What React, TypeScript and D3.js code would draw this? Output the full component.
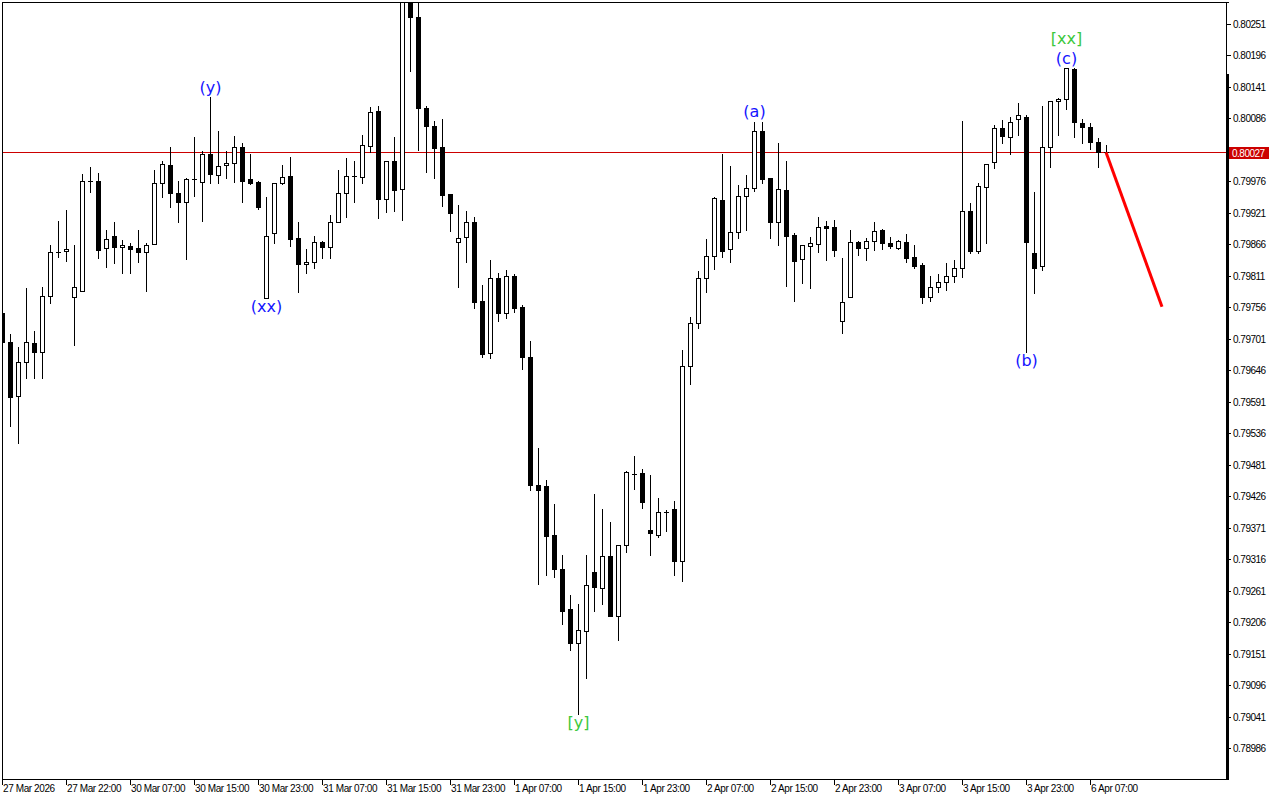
import React from "react";
import * as d3 from "d3";

// H1 bars, 27 Mar 2026 .. 6 Apr 2026 09:00
const opens = [
  0.79746, 0.79696, 0.79601, 0.79661, 0.79694, 0.79678, 0.79776, 0.79853, 0.79855, 0.79774,
  0.79785, 0.79977, 0.79977, 0.7986, 0.79881, 0.79862, 0.79863, 0.7986, 0.79853, 0.79867,
  0.79973, 0.80005, 0.79956, 0.7994, 0.7998, 0.79975, 0.80024, 0.79987, 0.80005, 0.80008,
  0.80036, 0.7998, 0.79975, 0.79773, 0.79886, 0.79973, 0.79986, 0.79877, 0.79832, 0.79835,
  0.7987, 0.79862, 0.79905, 0.79956, 0.79986, 0.79984, 0.80038, 0.80099, 0.79945, 0.80012,
  0.79963, 0.80307, 0.80263, 0.80104, 0.80073, 0.80036, 0.79954, 0.7987, 0.79879, 0.79905,
  0.79767, 0.79677, 0.79807, 0.79746, 0.79811, 0.79757, 0.7967, 0.79446, 0.79443, 0.79359,
  0.79299, 0.79228, 0.7917, 0.79191, 0.79294, 0.79266, 0.79322, 0.79217, 0.79341, 0.79465,
  0.79467, 0.79367, 0.79359, 0.79399, 0.79404, 0.79312, 0.79654, 0.79729, 0.79807, 0.79846,
  0.79944, 0.79858, 0.79888, 0.79951, 0.79965, 0.80064, 0.79982, 0.79905, 0.79961, 0.79883,
  0.79841, 0.79863, 0.79867, 0.79898, 0.79897, 0.79732, 0.79774, 0.7987, 0.7986, 0.79872,
  0.79891, 0.79869, 0.7986, 0.7987, 0.79844, 0.7983, 0.79774, 0.79792, 0.798, 0.79811,
  0.79825, 0.79924, 0.79855, 0.79966, 0.8001, 0.80069, 0.80054, 0.80085, 0.80089, 0.79851,
  0.79828, 0.80036, 0.80117, 0.8012, 0.80172, 0.80078, 0.80071, 0.80045, 0.80027,
];
const highs = [
  0.79748, 0.7971, 0.79687, 0.7979, 0.79715, 0.79792, 0.79865, 0.79907, 0.79926, 0.79865,
  0.79989, 0.80001, 0.79991, 0.79891, 0.79905, 0.79874, 0.79869, 0.79891, 0.79869, 0.79996,
  0.80012, 0.80036, 0.79977, 0.79982, 0.80054, 0.80029, 0.80123, 0.80064, 0.80029, 0.80055,
  0.80043, 0.80024, 0.79977, 0.79949, 0.79973, 0.80005, 0.80019, 0.79905, 0.79858, 0.79881,
  0.79872, 0.79918, 0.79996, 0.80017, 0.80012, 0.80057, 0.80106, 0.80108, 0.80012, 0.80054,
  0.80319, 0.80328, 0.80302, 0.80108, 0.80082, 0.80085, 0.79954, 0.79935, 0.79925, 0.79914,
  0.79795, 0.79839, 0.79816, 0.79821, 0.79814, 0.7976, 0.79697, 0.79511, 0.79455, 0.79413,
  0.79324, 0.79254, 0.79238, 0.79324, 0.79429, 0.79404, 0.79381, 0.79341, 0.7947, 0.79497,
  0.79474, 0.79463, 0.79422, 0.79402, 0.79418, 0.79682, 0.79739, 0.7982, 0.79876, 0.79949,
  0.80024, 0.80003, 0.7997, 0.79987, 0.8008, 0.8008, 0.79982, 0.80043, 0.80012, 0.79886,
  0.79865, 0.79879, 0.79914, 0.79907, 0.79909, 0.79842, 0.79891, 0.79872, 0.79877, 0.79905,
  0.79893, 0.79879, 0.79874, 0.79884, 0.79865, 0.79834, 0.79811, 0.79814, 0.79834, 0.79839,
  0.80082, 0.79938, 0.79973, 0.80007, 0.80075, 0.80083, 0.80089, 0.80113, 0.80092, 0.79958,
  0.80108, 0.80117, 0.80122, 0.80174, 0.80174, 0.80085, 0.80078, 0.80052, 0.8004,
];
const lows = [
  0.79696, 0.79549, 0.79519, 0.79633, 0.79633, 0.79633, 0.79764, 0.79844, 0.79837, 0.7969,
  0.79785, 0.79958, 0.79842, 0.79827, 0.79834, 0.79816, 0.79816, 0.79835, 0.79785, 0.79867,
  0.79949, 0.79931, 0.79905, 0.79841, 0.79951, 0.79907, 0.79973, 0.79973, 0.79982, 0.79975,
  0.7994, 0.79972, 0.79928, 0.79773, 0.79869, 0.79972, 0.79863, 0.79783, 0.79816, 0.79825,
  0.79842, 0.79842, 0.79905, 0.79914, 0.7994, 0.79973, 0.80027, 0.79912, 0.79923, 0.79924,
  0.79909, 0.80169, 0.80031, 0.79993, 0.79982, 0.79933, 0.7989, 0.79792, 0.79835, 0.79755,
  0.7967, 0.79668, 0.79732, 0.79738, 0.79748, 0.79649, 0.79437, 0.79273, 0.79289, 0.79284,
  0.79203, 0.79158, 0.79046, 0.79109, 0.79226, 0.79237, 0.79217, 0.79174, 0.79329, 0.79439,
  0.79406, 0.79324, 0.79354, 0.79366, 0.79289, 0.79278, 0.79622, 0.7972, 0.79783, 0.79823,
  0.79844, 0.79835, 0.79877, 0.79891, 0.79959, 0.79973, 0.79877, 0.79865, 0.79793, 0.79767,
  0.79799, 0.7979, 0.79853, 0.79839, 0.79846, 0.79711, 0.79774, 0.79848, 0.79839, 0.79856,
  0.79858, 0.7986, 0.79858, 0.79835, 0.79825, 0.79764, 0.79767, 0.79783, 0.79787, 0.798,
  0.79809, 0.79851, 0.79851, 0.79869, 0.8, 0.80043, 0.80024, 0.80057, 0.79678, 0.79781,
  0.79821, 0.80001, 0.80057, 0.80103, 0.80054, 0.80043, 0.80033, 0.80001, 0.80026,
];
const closes = [
  0.79696, 0.796, 0.79661, 0.79696, 0.79678, 0.79776, 0.79853, 0.79853, 0.79858, 0.79792,
  0.79977, 0.79977, 0.79856, 0.79876, 0.79862, 0.79865, 0.79858, 0.79853, 0.79865, 0.79973,
  0.80007, 0.79956, 0.7994, 0.7998, 0.7998, 0.80024, 0.79989, 0.80003, 0.80008, 0.80036,
  0.79977, 0.79973, 0.79931, 0.79881, 0.79973, 0.79984, 0.79876, 0.79832, 0.79835, 0.7987,
  0.79862, 0.79905, 0.79956, 0.79986, 0.79986, 0.8004, 0.80097, 0.79945, 0.80012, 0.79961,
  0.80307, 0.80263, 0.80104, 0.80073, 0.80035, 0.79952, 0.79921, 0.79877, 0.79905, 0.79766,
  0.79675, 0.79807, 0.79746, 0.79811, 0.79755, 0.7967, 0.79446, 0.79437, 0.79357, 0.79298,
  0.79226, 0.7917, 0.79193, 0.7927, 0.79268, 0.79322, 0.79217, 0.79341, 0.79469, 0.79465,
  0.79415, 0.79362, 0.79399, 0.79399, 0.79312, 0.79654, 0.79729, 0.79807, 0.79846, 0.79947,
  0.79855, 0.79888, 0.79951, 0.79965, 0.80064, 0.7998, 0.79905, 0.79963, 0.79881, 0.79837,
  0.79865, 0.79869, 0.79897, 0.79895, 0.79856, 0.79766, 0.7987, 0.7986, 0.79872, 0.7989,
  0.79869, 0.79863, 0.79872, 0.79842, 0.79828, 0.79774, 0.79792, 0.798, 0.79811, 0.79825,
  0.79924, 0.79855, 0.79968, 0.80007, 0.80069, 0.80055, 0.8008, 0.80092, 0.7987, 0.79825,
  0.80036, 0.80117, 0.8012, 0.80174, 0.8008, 0.80071, 0.80045, 0.80027, 0.80027,
];

const priceTicks = [
  "0.78986", "0.79041", "0.79096", "0.79151", "0.79206", "0.79261", "0.79316", "0.79371",
  "0.79426", "0.79481", "0.79536", "0.79591", "0.79646", "0.79701", "0.79756", "0.79811",
  "0.79866", "0.79921", "0.79976", "0.80086", "0.80141", "0.80196", "0.80251",
];

const timeLabels = [
  "27 Mar 2026", "27 Mar 22:00", "30 Mar 07:00", "30 Mar 15:00", "30 Mar 23:00",
  "31 Mar 07:00", "31 Mar 15:00", "31 Mar 23:00", "1 Apr 07:00", "1 Apr 15:00",
  "1 Apr 23:00", "2 Apr 07:00", "2 Apr 15:00", "2 Apr 23:00", "3 Apr 07:00",
  "3 Apr 15:00", "3 Apr 23:00", "6 Apr 07:00",
];
const barsPerLabel = 8;

const currentPrice = 0.80027;

// wave count marks
const waveTexts = ["(y)", "(xx)", "[y]", "(a)", "(b)", "(c)", "[xx]"];
const waveBars = [26, 33, 72, 94, 128, 133, 133];
const waveSides = ["high", "low", "low", "high", "low", "high", "high"];
const waveStack = [0, 0, 0, 0, 0, 0, 1];

// projected move
const forecastBars = [138, 145];
const forecastPrices = [0.80027, 0.79757];

const axisFont = "'Liberation Sans', Arial, sans-serif";

export default function App() {
  const width = 1280;
  const height = 800;
  const left = 2;
  const top = 2;
  const right = 1226;
  const bottom = 779;

  const x = d3.scaleLinear().domain([0, 145]).range([2, 1162]);
  const y = d3.scaleLinear().domain([0.78986, 0.80251]).range([748, 24]);
  const r = (v: number) => Math.round(v);

  const candles = opens.map((o, i) => {
    const cx = r(x(i));
    const yo = r(y(o));
    const yc = r(y(closes[i]));
    const yh = r(y(highs[i]));
    const yl = r(y(lows[i]));
    const t = Math.min(yo, yc);
    const b = Math.max(yo, yc);
    const bull = closes[i] > opens[i] && b - t >= 1;
    return (
      <g key={i}>
        <rect x={cx} y={yh} width={1} height={yl - yh + 1} fill="#000" />
        <rect x={cx - 2} y={t} width={5} height={b - t + 1} fill="#000" />
        {bull && b - t >= 2 && (
          <rect x={cx - 1} y={t + 1} width={3} height={b - t - 1} fill="#fff" />
        )}
      </g>
    );
  });

  const line = d3
    .line<number>()
    .x((d, i) => x(forecastBars[i]))
    .y((d) => y(d));

  const cp = r(y(currentPrice));

  return (
    <svg
      width={width}
      height={height}
      style={{ position: "absolute", left: 0, top: 0, background: "#fff" }}
      shapeRendering="crispEdges"
    >
      <defs>
        <clipPath id="plot">
          <rect x={left} y={top} width={right - left} height={bottom - top} />
        </clipPath>
      </defs>
      <rect x={0} y={0} width={width} height={height} fill="#fff" />

      <line x1={left} x2={right} y1={cp + 0.5} y2={cp + 0.5} stroke="#cc0000" strokeWidth={1} />

      <g clipPath="url(#plot)">{candles}</g>

      <path
        d={line(forecastPrices) || ""}
        fill="none"
        stroke="#ff0000"
        strokeWidth={3}
        shapeRendering="auto"
      />

      {waveTexts.map((t, i) => {
        const bar = waveBars[i];
        const isHigh = waveSides[i] === "high";
        const base = isHigh ? y(highs[bar]) - 10 - waveStack[i] * 20 : y(lows[bar]) + 9;
        const green = t.startsWith("[");
        return (
          <text
            key={i}
            x={x(bar) + 0.5}
            y={base}
            textAnchor="middle"
            dominantBaseline="central"
            fontFamily="'DejaVu Sans', sans-serif"
            fontSize={16}
            fill={green ? "#3cc83c" : "#1414ff"}
            shapeRendering="auto"
          >
            {t}
          </text>
        );
      })}

      {/* frame */}
      <line x1={left} x2={right + 3} y1={top + 0.5} y2={top + 0.5} stroke="#000" />
      <line x1={left + 0.5} x2={left + 0.5} y1={top} y2={bottom + 1} stroke="#000" />
      <line x1={left} x2={right + 3} y1={bottom + 0.5} y2={bottom + 0.5} stroke="#000" />
      <line x1={right + 0.5} x2={right + 0.5} y1={top} y2={bottom + 1} stroke="#000" />
      <rect x={right} y={74} width={3} height={bottom - 74 + 1} fill="#000" />

      {/* price axis */}
      {priceTicks.map((p) => {
        const py = r(y(+p));
        return (
          <g key={p}>
            <line x1={right} x2={right + 5} y1={py + 0.5} y2={py + 0.5} stroke="#000" />
            <text
              x={right + 7}
              y={py + 0.5}
              dominantBaseline="central"
              fontFamily={axisFont}
              fontSize={10}
              letterSpacing={-0.5}
              fill="#000"
            >
              {p}
            </text>
          </g>
        );
      })}
      <rect x={right + 3} y={cp - 5} width={40} height={12} fill="#cc0000" />
      <text
        x={right + 6}
        y={cp + 1}
        dominantBaseline="central"
        fontFamily={axisFont}
        fontSize={10}
        letterSpacing={-0.5}
        fill="#fff"
      >
        {currentPrice.toFixed(5)}
      </text>

      {/* time axis */}
      {timeLabels.map((t, k) => {
        const tx = r(x(k * barsPerLabel));
        return (
          <g key={t}>
            <line x1={tx + 0.5} x2={tx + 0.5} y1={bottom} y2={bottom + 6} stroke="#000" />
            <text
              x={tx + 1}
              y={bottom + 13}
              fontFamily={axisFont}
              fontSize={10}
              letterSpacing={-0.4}
              fill="#000"
            >
              {t}
            </text>
          </g>
        );
      })}
    </svg>
  );
}
